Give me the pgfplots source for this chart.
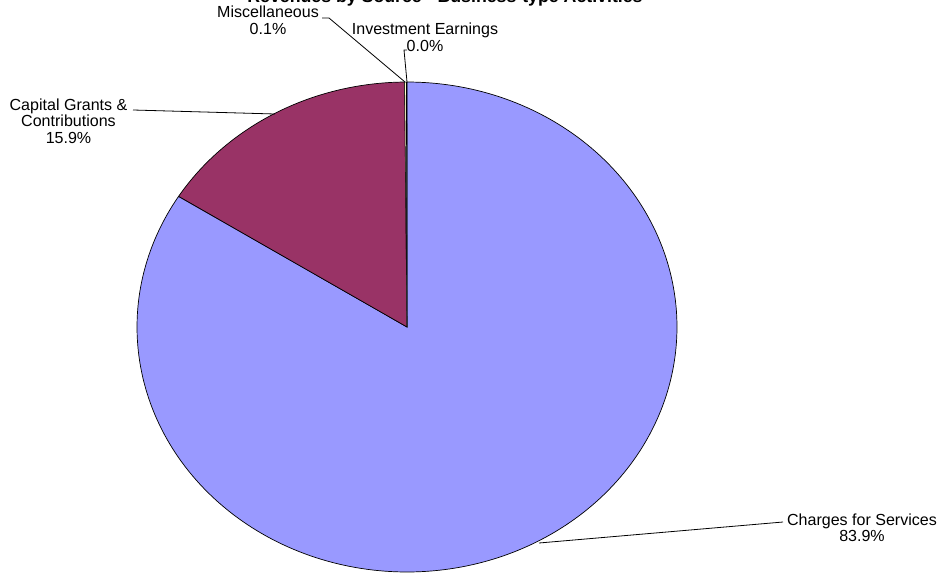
\documentclass[border=0pt]{standalone}
\usepackage{pgfplots}
\pgfplotsset{compat=1.18}
\usepackage{fontspec}
\setmainfont{Liberation Sans}
\definecolor{pieA}{HTML}{9999FF}
\definecolor{pieB}{HTML}{993366}
\definecolor{pieC}{HTML}{FFFFCC}
\definecolor{pieD}{HTML}{CCFFFF}
% values (percent)
\def\vA{83.9}  % Charges for Services
\def\vB{15.9}  % Capital Grants & Contributions
\def\vC{0.1}   % Miscellaneous
\def\vD{0.04}  % Investment Earnings
\newcommand\lbl{\fontsize{16.1}{16}\selectfont}
\begin{document}
\begin{tikzpicture}
\pgfmathsetmacro\tot{\vA+\vB+\vC+\vD}
\pgfmathsetmacro\aA{90-3.6*(\vA/\tot)*100}
\pgfmathsetmacro\aB{\aA-3.6*(\vB/\tot)*100}
\pgfmathsetmacro\aC{\aB-3.6*(\vC/\tot)*100}
\pgfmathsetmacro\aD{\aC-3.6*(\vD/\tot)*100}
\begin{axis}[
  width=943bp, height=573bp, scale only axis,
  xmin=0, xmax=943, ymin=0, ymax=573, y dir=reverse,
  hide axis, clip=false,
]
\coordinate (sw) at (axis cs:0,573);
\coordinate (ne) at (axis cs:943,0);
\addplot[fill=pieA, draw=black, line width=0.7bp, domain=\aA:90, samples=240, variable=\t]
  ({407+270*cos(t)}, {327-245*sin(t)}) -- (axis cs:407,327) -- cycle;
\addplot[fill=pieB, draw=black, line width=0.7bp, domain=\aB:\aA, samples=60, variable=\t]
  ({407+270*cos(t)}, {327-245*sin(t)}) -- (axis cs:407,327) -- cycle;
\addplot[fill=pieC, draw=black, line width=0.5bp, domain=\aC:\aB, samples=3, variable=\t]
  ({407+270*cos(t)}, {327-245*sin(t)}) -- (axis cs:407,327) -- cycle;
\addplot[fill=pieD, draw=black, line width=0.5bp, domain=\aD:\aC, samples=3, variable=\t]
  ({407+270*cos(t)}, {327-245*sin(t)}) -- (axis cs:407,327) -- cycle;
% leader lines
\addplot[black, line width=0.8bp] coordinates {(539,543) (783,522)};
\addplot[black, line width=0.8bp] coordinates {(275,114) (133,110)};
\addplot[black, line width=0.8bp] coordinates {(405,82) (329,18) (322,18)};
\addplot[black, line width=0.8bp] coordinates {(407,82) (404,50) (407,50)};
% labels
\node[anchor=base, inner sep=0pt, font=\lbl] at (axis cs:862,525) {Charges for Services};
\node[anchor=base, inner sep=0pt, font=\lbl] at (axis cs:862,541) {83.9\%};
\node[anchor=base, inner sep=0pt, font=\lbl] at (axis cs:68.5,111) {Capital Grants \&};
\node[anchor=base, inner sep=0pt, font=\lbl] at (axis cs:68.5,127) {Contributions};
\node[anchor=base, inner sep=0pt, font=\lbl] at (axis cs:68.5,143) {15.9\%};
\node[anchor=base, inner sep=0pt, font=\lbl] at (axis cs:268,18) {Miscellaneous};
\node[anchor=base, inner sep=0pt, font=\lbl] at (axis cs:268,35) {0.1\%};
\node[anchor=base, inner sep=0pt, font=\lbl] at (axis cs:425,35) {Investment Earnings};
\node[anchor=base, inner sep=0pt, font=\lbl] at (axis cs:425,52) {0.0\%};
\node[anchor=base, inner sep=0pt, font=\fontsize{17.8}{18}\selectfont\bfseries] at (axis cs:445,3) {Revenues by Source - Business-type Activities};
\end{axis}
\pgfresetboundingbox
\useasboundingbox (sw) rectangle (ne);
\end{tikzpicture}
\end{document}
